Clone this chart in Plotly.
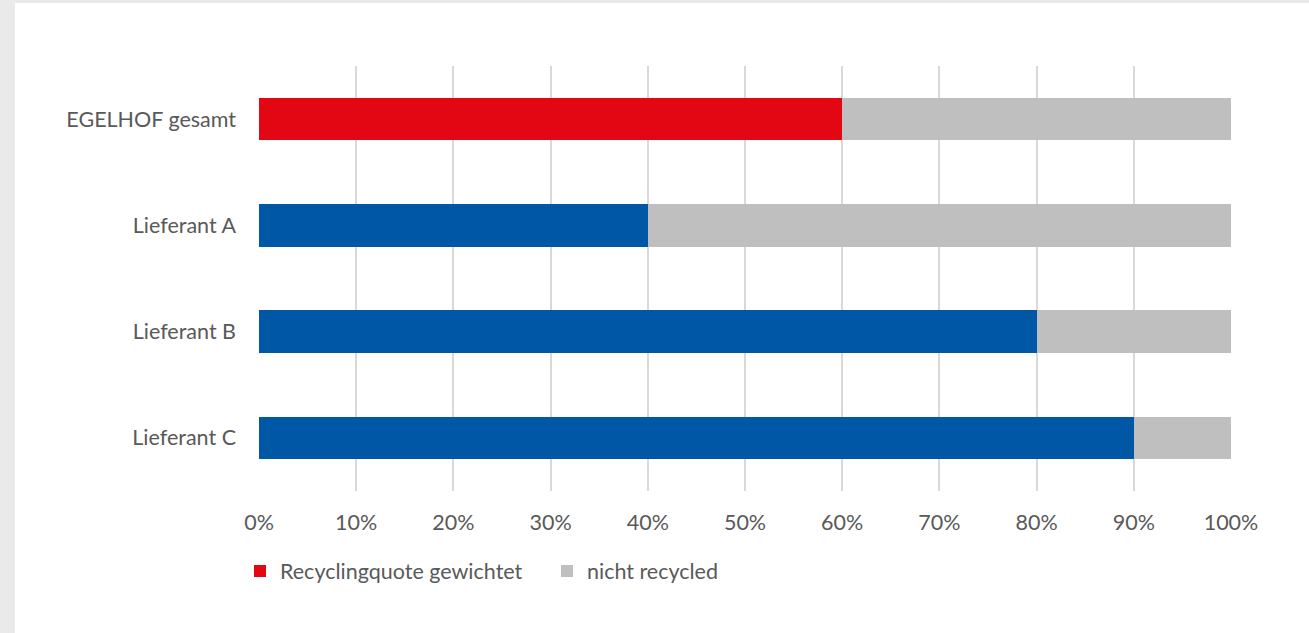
import plotly.graph_objects as go

categories = ["EGELHOF gesamt", "Lieferant A", "Lieferant B", "Lieferant C"]
recycled = [60, 40, 80, 90]
not_recycled = [40, 60, 20, 10]
recycled_colors = ["#E30613", "#0057A5", "#0057A5", "#0057A5"]
tick_vals = [0, 10, 20, 30, 40, 50, 60, 70, 80, 90, 100]
tick_text = [f"{v}%" for v in tick_vals]

FONT = "Lato"
TXT = "#595959"
FS = 21.5

fig = go.Figure()
fig.add_trace(go.Bar(
    y=categories, x=recycled, orientation="h",
    name="Recyclingquote gewichtet",
    marker=dict(color=recycled_colors, line=dict(width=0)),
))
fig.add_trace(go.Bar(
    y=categories, x=not_recycled, orientation="h",
    name="nicht recycled",
    marker=dict(color="#BFBFBF", line=dict(width=0)),
))

# plot area: x 259..1231, y 66..491
L, R, T, B = 259, 1231, 66, 491
W, H = 1309, 633
def px(x):
    return (x - L) / (R - L)
def py(y):
    return (B - y) / (B - T)

fig.update_layout(
    width=W, height=H,
    barmode="stack", bargap=0.6,
    margin=dict(l=L, r=W - R, t=T, b=H - B, pad=0),
    paper_bgcolor="#EAEAEA", plot_bgcolor="rgba(0,0,0,0)",
    font=dict(family=FONT, size=FS, color=TXT),
    shapes=[dict(type="rect", xref="paper", yref="paper",
                 x0=px(15), x1=px(1309 + 5), y0=py(3), y1=py(633 + 5),
                 fillcolor="white", line=dict(width=0), layer="below")],
    xaxis=dict(range=[0, 100], tickvals=tick_vals, ticktext=tick_text,
               showgrid=True, gridcolor="#D9D9D9", gridwidth=1.5,
               zeroline=False, showline=False, ticks="",
               ticklabelstandoff=16, fixedrange=True),
    yaxis=dict(categoryorder="array", categoryarray=categories,
               autorange="reversed", showgrid=False, zeroline=False,
               showline=False, ticks="", ticklabelstandoff=22,
               fixedrange=True),
    legend=dict(orientation="h", x=px(240), xanchor="left",
                y=py(571), yanchor="middle", font=dict(size=FS, color=TXT),
                bgcolor="rgba(0,0,0,0)", itemclick=False,
                entrywidth=262, entrywidthmode="pixels",
                traceorder="normal"),
)
fig.write_html("out.html", config={"displayModeBar": False},
               post_script="document.body.style.margin='0';document.body.style.padding='0';")
